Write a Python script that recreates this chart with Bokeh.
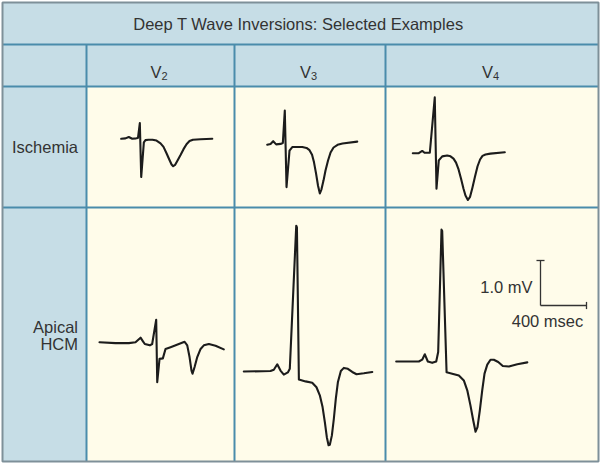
from bokeh.plotting import figure
from bokeh.models import Range1d
from bokeh.core.properties import value
from bokeh.embed import file_html
from bokeh.resources import INLINE

# ---------------- data ----------------
TITLE = "Deep T Wave Inversions: Selected Examples"
LEAD_LETTER = "V"
LEAD_NUMBERS = ["2", "3", "4"]
ROW_ISCHEMIA = ["Ischemia"]
ROW_HCM = ["Apical", "HCM"]

SCALE_MV = 1.0
SCALE_MS = 400
SCALE_MV_LABEL = "1.0 mV"
SCALE_MS_LABEL = "400 msec"

# Ischemia traces (time in ms, amplitude in mV)
ISCH_V2_MS = [0, 37, 66, 96, 130, 146, 162, 174, 197, 211, 237, 272, 307, 342, 368, 394, 420, 438, 452, 468, 490, 516, 542, 568, 594, 624, 690, 792]
ISCH_V2_MV = [0, 0.01, 0.04, 0, 0.01, 0.02, 0.35, -0.85, -0.08, -0.03, -0.02, -0.02, -0.04, -0.10, -0.18, -0.32, -0.47, -0.57, -0.61, -0.58, -0.48, -0.36, -0.23, -0.12, -0.05, -0.02, -0.01, 0.0]

ISCH_V3_MS = [0, 29, 52, 78, 116, 136, 153, 168, 194, 218, 255, 305, 342, 368, 390, 407, 425, 442, 458, 472, 490, 507, 529, 551, 577, 612, 655, 783]
ISCH_V3_MV = [0, 0.02, 0.08, 0.01, 0.02, 0.04, 0.76, -0.94, -0.13, -0.05, -0.05, -0.05, -0.07, -0.12, -0.22, -0.39, -0.64, -0.91, -1.08, -0.99, -0.79, -0.57, -0.35, -0.17, -0.06, 0.0, 0.03, 0.07]

ISCH_V4_MS = [0, 52, 82, 102, 148, 191, 206, 226, 256, 299, 328, 354, 376, 398, 419, 441, 458, 479, 498, 519, 541, 563, 585, 606, 632, 675, 800]
ISCH_V4_MV = [0, 0, 0.05, 0.01, 0.01, 1.24, -0.79, -0.16, -0.07, -0.05, -0.07, -0.12, -0.21, -0.36, -0.56, -0.79, -0.94, -1.04, -0.97, -0.76, -0.52, -0.29, -0.14, -0.06, -0.03, -0.01, 0.02]

# Apical HCM traces
HCM_V2_MS = [0, 139, 255, 313, 335, 357, 378, 394, 438, 458, 493, 502, 522, 551, 574, 618, 690, 740, 763, 783, 800, 809, 827, 850, 879, 907, 951, 1009, 1081]
HCM_V2_MV = [0, -0.02, -0.02, 0, 0.05, 0.10, 0.02, -0.04, -0.07, -0.04, 0.50, -0.89, -0.37, -0.36, -0.15, -0.11, -0.04, 0.01, -0.07, -0.33, -0.63, -0.70, -0.55, -0.33, -0.15, -0.07, -0.04, -0.08, -0.16]

HCM_V3_MS = [0, 232, 261, 291, 319, 348, 383, 400, 456, 462, 479, 537, 595, 632, 661, 685, 705, 722, 737, 748, 766, 783, 800, 818, 844, 870, 905, 943, 980, 1044, 1117]
HCM_V3_MV = [0, 0.01, 0.04, 0.16, 0.02, -0.07, -0.02, 0.06, 3.24, 3.20, -0.18, -0.22, -0.25, -0.35, -0.53, -0.79, -1.13, -1.46, -1.64, -1.63, -1.42, -1.05, -0.61, -0.24, 0.01, 0.08, 0.06, -0.01, -0.06, -0.04, -0.01]

HCM_V4_MS = [0, 197, 226, 249, 275, 313, 348, 365, 394, 400, 438, 487, 545, 588, 618, 646, 670, 690, 707, 727, 748, 768, 792, 820, 849, 887, 927, 980, 1053, 1140]
HCM_V4_MV = [0, 0, 0.04, 0.16, 0, -0.03, 0, 0.21, 2.93, 2.90, -0.24, -0.27, -0.31, -0.42, -0.64, -0.98, -1.31, -1.56, -1.46, -1.09, -0.64, -0.27, -0.07, 0.04, 0.04, -0.01, -0.10, -0.11, -0.06, -0.02]

# ---------------- layout (reference pixel space) ----------------
X0, X1 = 0, 600
Y_BOTTOM, Y_TOP = 464, 0
W, H = 600, 464

COL_EDGES = [2, 86, 234, 385, 598]
ROW_EDGES = [2, 44, 86, 207, 461]

KX = 46.0 / 400.0   # ref px per ms
KY = 45.0           # ref px per mV

BLUE_FILL = "#c6dde6"
CREAM = "#fffcea"
GRID = "#4a8cab"
BORDER = "#7e9099"
TEXT = "#333333"
TRACE = "#1c1c1c"
FONT = value("Liberation Sans")
FS = "16.5px"

p = figure(width=W, height=H, output_backend="svg", toolbar_location=None,
           x_range=Range1d(X0, X1), y_range=Range1d(Y_BOTTOM, Y_TOP),
           min_border=0, x_axis_location=None, y_axis_location=None)
p.xgrid.visible = False
p.ygrid.visible = False
p.outline_line_color = None
p.background_fill_color = "white"
p.border_fill_color = "white"

# backgrounds
p.quad(left=[COL_EDGES[0]], right=[COL_EDGES[-1]], top=[ROW_EDGES[0]], bottom=[ROW_EDGES[-1]],
       fill_color=BLUE_FILL, line_color=None)
p.quad(left=[COL_EDGES[1]], right=[COL_EDGES[-1]], top=[ROW_EDGES[2]], bottom=[ROW_EDGES[-1]],
       fill_color=CREAM, line_color=None)

# grid lines
hx0, hx1, hy0, hy1 = [], [], [], []
for y in ROW_EDGES[1:-1]:
    hx0.append(COL_EDGES[0]); hx1.append(COL_EDGES[-1]); hy0.append(y); hy1.append(y)
for x in COL_EDGES[1:-1]:
    hx0.append(x); hx1.append(x); hy0.append(ROW_EDGES[1]); hy1.append(ROW_EDGES[-1])
p.segment(x0=hx0, y0=hy0, x1=hx1, y1=hy1, line_color=GRID, line_width=2)

# outer border
p.quad(left=[COL_EDGES[0]], right=[COL_EDGES[-1]], top=[ROW_EDGES[0]], bottom=[ROW_EDGES[-1]],
       fill_color=None, line_color=BORDER, line_width=2)

# title
p.text(x=[298], y=[23.5], text=[TITLE], text_font=FONT, text_font_size=FS,
       text_color=TEXT, text_align="center", text_baseline="middle")

# lead headers
centers = [(COL_EDGES[i] + COL_EDGES[i + 1]) / 2 for i in range(1, 4)]
p.text(x=[c + 1 for c in centers], y=[71] * 3, text=[LEAD_LETTER] * 3, text_font=FONT,
       text_font_size=FS, text_color=TEXT, text_align="right", text_baseline="alphabetic")
p.text(x=[c + 1 for c in centers], y=[75] * 3, text=LEAD_NUMBERS, text_font=FONT,
       text_font_size="11px", text_color=TEXT, text_align="left", text_baseline="alphabetic")

# row labels
p.text(x=[77.5], y=[146], text=ROW_ISCHEMIA, text_font=FONT, text_font_size=FS,
       text_color=TEXT, text_align="right", text_baseline="middle")
p.text(x=[77.5, 77.5], y=[326, 343], text=ROW_HCM, text_font=FONT, text_font_size=FS,
       text_color=TEXT, text_align="right", text_baseline="middle")

# traces, each through its own ms / mV scales
traces = [
    ("isch_v2", ISCH_V2_MS, ISCH_V2_MV, 120.7, 138.3),
    ("isch_v3", ISCH_V3_MS, ISCH_V3_MV, 266.7, 144.3),
    ("isch_v4", ISCH_V4_MS, ISCH_V4_MV, 412.3, 152.7),
    ("hcm_v2", HCM_V2_MS, HCM_V2_MV, 99.0, 341.7),
    ("hcm_v3", HCM_V3_MS, HCM_V3_MV, 243.3, 371.0),
    ("hcm_v4", HCM_V4_MS, HCM_V4_MV, 395.7, 361.0),
    ("scale", None, None, 540.0, 305.0),
]
for name, ms, mv, ox, oy in traces:
    p.extra_x_ranges[name] = Range1d((X0 - ox) / KX, (X1 - ox) / KX)
    p.extra_y_ranges[name] = Range1d((oy - Y_BOTTOM) / KY, (oy - Y_TOP) / KY)
    if ms is not None:
        p.line(ms, mv, x_range_name=name, y_range_name=name, line_color=TRACE,
               line_width=2.1, line_join="round", line_cap="round")

# calibration bar
p.segment(x0=[0, 0, -35, SCALE_MS], y0=[0, 0, SCALE_MV, -0.08],
          x1=[0, SCALE_MS, 35, SCALE_MS], y1=[SCALE_MV, 0, SCALE_MV, 0.08],
          x_range_name="scale", y_range_name="scale", line_color="#333333", line_width=1.3)
p.text(x=[532], y=[286], text=[SCALE_MV_LABEL], text_font=FONT, text_font_size=FS,
       text_color=TEXT, text_align="right", text_baseline="middle")
p.text(x=[547], y=[320.5], text=[SCALE_MS_LABEL], text_font=FONT, text_font_size=FS,
       text_color=TEXT, text_align="center", text_baseline="middle")

open("out.html", "w").write(file_html(p, INLINE))
